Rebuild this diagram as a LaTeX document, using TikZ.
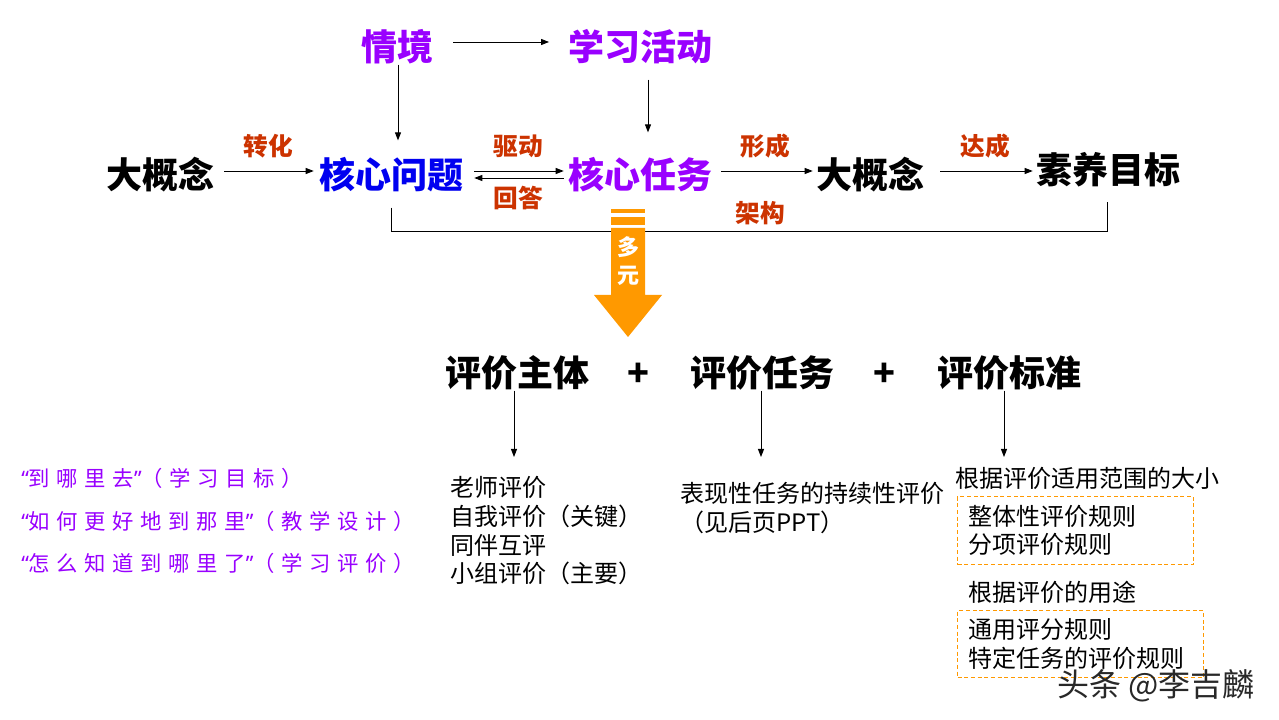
\documentclass[tikz,border=0pt]{standalone}
\usepackage{fontspec}
\setmainfont{Noto Sans CJK SC}
\newfontfamily\spaced[LetterSpace=31]{Noto Sans CJK SC}
\newfontfamily\narrowq{Noto Sans}
\newcommand{\myLq}{{\narrowq “}}
\newcommand{\myRq}{{\narrowq ”}}
\usetikzlibrary{arrows.meta}
\definecolor{pur}{RGB}{153,0,255}
\definecolor{blu}{RGB}{0,0,240}
\definecolor{labred}{RGB}{204,51,0}
\definecolor{org}{RGB}{255,153,0}
\definecolor{wm}{RGB}{40,40,40}
\begin{document}
\begin{tikzpicture}[x=0.75pt,y=-0.75pt,
  head/.style={font=\fontsize{27}{30}\selectfont\bfseries, inner sep=0pt},
  lab/.style={font=\fontsize{18.5}{20}\selectfont\bfseries, text=labred, inner sep=0pt},
  body/.style={font=\fontsize{18}{21.5}\selectfont, inner sep=0pt, anchor=west, align=left},
  quote/.style={font=\fontsize{16}{17}\spaced, text=pur, inner sep=0pt, anchor=west},
  arr/.style={-{Triangle[length=6pt,width=4.5pt]}, line width=0.7pt},
  dbox/.style={draw=org, dash pattern=on 3pt off 2pt, line width=0.75pt, anchor=north west, align=left,
     font=\fontsize{18}{21.5}\selectfont, inner xsep=8.25pt, inner ysep=0pt},
]
\useasboundingbox[fill=white] (0,0) rectangle (1279,720);

% top row
\node[head,text=pur] (qj) at (397,47) {情境};
\node[head,text=pur] (xx) at (640,47) {学习活动};
\node[head] (dg1) at (160,175) {大概念};
\node[head,text=blu] (hw) at (391,175) {核心问题};
\node[head,text=pur] (hr) at (640,175) {核心任务};
\node[head] (dg2) at (870,175) {大概念};
\node[head] (sy) at (1108,170) {素养目标};

\draw[arr, shorten <=15pt, shorten >=14pt] ([yshift=3.75pt]qj.east) -- ([yshift=3.75pt]qj.east -| xx.west);
\draw[arr, shorten >=12.75pt] ([xshift=0.75pt]qj.south) -- ([xshift=0.75pt]qj.south |- hw.north);
\draw[arr, shorten <=11.25pt, shorten >=18.75pt] ([xshift=6pt]xx.south) -- ([xshift=6pt]xx.south |- hr.north);

\draw[arr, shorten <=7.5pt, shorten >=3.75pt] ([yshift=3pt]dg1.east) -- ([yshift=3pt]dg1.east -| hw.west);
\draw[arr, shorten <=8.25pt, shorten >=3pt] ([yshift=3pt]hw.east) -- ([yshift=3pt]hw.east -| hr.west);
\draw[arr, shorten >=8.25pt, shorten <=3pt] ([yshift=-2.25pt]hw.east -| hr.west) -- ([yshift=-2.25pt]hw.east);
\draw[arr, shorten <=6.75pt, shorten >=2.25pt] ([yshift=3pt]hr.east) -- ([yshift=3pt]hr.east -| dg2.west);
\draw[arr, shorten <=12pt, shorten >=2.25pt] ([yshift=3pt]dg2.east) -- ([yshift=3pt]dg2.east -| sy.west);

\node[lab] (l1) at (268,146) {转化};
\node[lab] (l2) at (518,146) {驱动};
\node[lab] (l3) at (518,198) {回答};
\node[lab] (l4) at (765,146) {形成};
\node[lab] (l5) at (985,146) {达成};
\node[lab] (l6) at (760,213) {架构};

% bracket
\draw[line width=0.75pt] ([yshift=-11.25pt]hw.south) -- ++(0,24) -| ([yshift=-10.5pt,xshift=-0.75pt]sy.south);

% orange arrow
\fill[org] (611,209) rectangle (645,213);
\fill[org] (611,217) rectangle (645,225);
\fill[org] (611,228) -- (645,228) -- (645,295) -- (662,295) -- (628,337) -- (594,295) -- (611,295) -- cycle;
\node[font=\fontsize{16.5}{20.5}\selectfont\bfseries, text=white, align=center, inner sep=0pt] (dy) at (628,261) {多\\元};

% second row
\node[head] (zt) at (517,373) {评价主体};
\node[head] (p1) at (638,375) {+};
\node[head] (rw) at (762,373) {评价任务};
\node[head] (p2) at (884,375) {+};
\node[head] (bz) at (1009,373) {评价标准};

\coordinate (e1) at (514,457);
\coordinate (e2) at (761,457);
\coordinate (e3) at (1004,457);
\draw[arr] (zt.south -| e1) -- (e1);
\draw[arr] (rw.south -| e2) -- (e2);
\draw[arr] (bz.south -| e3) -- (e3);

\node[body] (t1) at (450,531) {老师评价\\自我评价（关键）\\同伴互评\\小组评价（主要）};
\node[body] (t2) at (680,508) {表现性任务的持续性评价\\（见后页PPT）};
\node[body] (t3) at (955,478) {根据评价适用范围的大小};
\node[dbox, minimum width=177pt, minimum height=51pt, text width=160.5pt] (b1) at (957,496) {整体性评价规则\\分项评价规则};
\node[body] (t4) at (968,592) {根据评价的用途};
\node[dbox, minimum width=184.5pt, minimum height=50.25pt, text width=168pt] (b2) at (957,610) {通用评分规则\\特定任务的评价规则};

% left purple text
\node[quote] (q1) at (21,478) {\myLq 到哪里去\myRq（学习目标）};
\node[quote] (q2) at (21,521) {\myLq 如何更好地到那里\myRq（教学设计）};
\node[quote] (q3) at (21,563) {\myLq 怎么知道到哪里了\myRq（学习评价）};

% watermark
\node[font=\fontsize{24}{26}\selectfont, text=wm, inner sep=0pt, anchor=west] (wmk) at (1057,686) {头条 @李吉麟};
\end{tikzpicture}
\end{document}
